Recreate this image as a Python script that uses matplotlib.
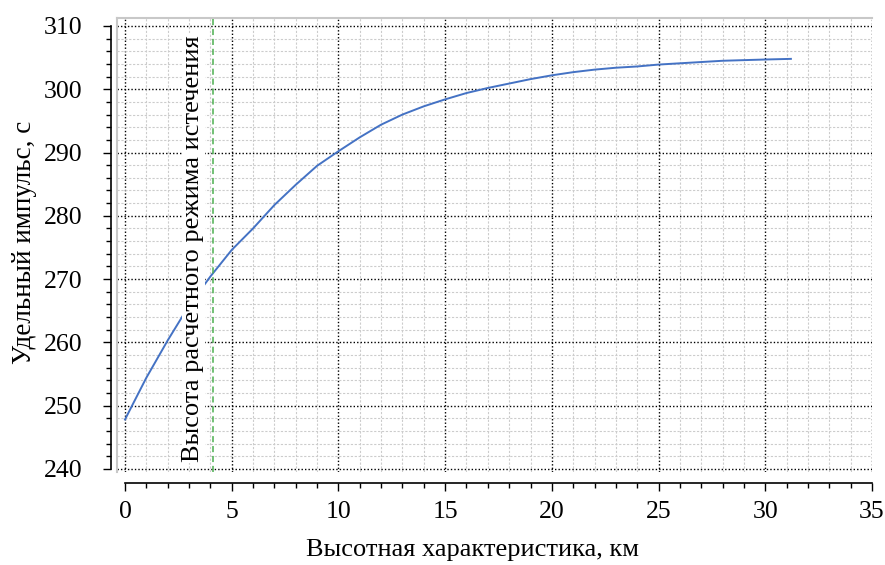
import matplotlib
matplotlib.use("Agg")
import matplotlib.pyplot as plt
from matplotlib.ticker import MultipleLocator

plt.rcParams['font.family'] = ['Liberation Serif', 'DejaVu Serif']

# data
altitude_km = [0, 1, 2, 3, 4, 5, 6, 7, 8, 9, 10, 11, 12, 13, 14, 15, 16, 17, 18, 19,
               20, 21, 22, 23, 24, 25, 26, 27, 28, 29, 30, 31.2]
specific_impulse = [247.8, 254.4, 260.3, 265.8, 270.4, 274.6, 278.0, 281.7, 284.9, 287.9,
                    290.2, 292.4, 294.4, 296.0, 297.3, 298.4, 299.4, 300.2, 300.9, 301.6,
                    302.2, 302.7, 303.1, 303.4, 303.6, 303.9, 304.1, 304.3, 304.5, 304.6,
                    304.7, 304.8]
design_altitude = 4.1
annotation = "Высота расчетного режима истечения"
xlabel = "Высотная характеристика, км"
ylabel = "Удельный импульс, с"

W, H = 885, 565
fig = plt.figure(figsize=(W / 100, H / 100), dpi=100)
L, R, T, B = 117, 872, 18, 472
ax = fig.add_axes([L / W, (H - B) / H, (R - L) / W, (B - T) / H])

ax.set_xlim(-0.375, 35)
ax.set_ylim(239.5, 311.26)

ax.xaxis.set_major_locator(MultipleLocator(5))
ax.xaxis.set_minor_locator(MultipleLocator(1))
ax.yaxis.set_major_locator(MultipleLocator(10))
ax.yaxis.set_minor_locator(MultipleLocator(2))

ax.grid(which='minor', color='#cccccc', linestyle=(0, (2, 1.5)), linewidth=0.8)
ax.grid(which='major', color='black', linestyle=(0, (1, 1.5)), linewidth=1.0)
ax.set_axisbelow(True)

ax.plot(altitude_km, specific_impulse, color='#4472C4', linewidth=1.4, zorder=3)
ax.axvline(design_altitude, color='#4CAF50', linestyle=(0, (4, 2.5)), linewidth=1.1, zorder=3)

ax.text(3.2, 241.1, annotation, rotation=90, ha='center', va='bottom', fontsize=19,
        zorder=4, bbox=dict(facecolor='white', edgecolor='none', pad=0.5))

for s in ['top', 'right']:
    ax.spines[s].set_visible(False)
ax.spines['left'].set_position(('outward', 4))
ax.spines['bottom'].set_position(('outward', 8))
ax.spines['left'].set_bounds(240, 310)
ax.spines['bottom'].set_bounds(0, 35)
for s in ['left', 'bottom']:
    ax.spines[s].set_linewidth(1.2)

# light frame lines
ax.plot([0, 1], [1, 1], transform=ax.transAxes, color='#c8c8c8', linewidth=1.5, clip_on=False)
ax.plot([0, 0], [0, 1], transform=ax.transAxes, color='#c8c8c8', linewidth=1.5, clip_on=False)

ax.tick_params(which='major', length=6, width=1.0, labelsize=18.5)
ax.tick_params(which='minor', length=3.6, width=1.0)
ax.tick_params(axis='y', which='major', pad=15)
ax.tick_params(axis='x', which='major', pad=7)

ax.set_xlabel(xlabel, fontsize=19)
ax.set_ylabel(ylabel, fontsize=19.5)
ax.xaxis.set_label_coords((472 - L) / (R - L), -(550 - B) / (B - T), transform=ax.transAxes)
ax.yaxis.set_label_coords(-(L - 25) / (R - L), (B - 242) / (B - T))
ax.xaxis.label.set_va('center')
ax.yaxis.label.set_va('center')

fig.savefig("out.png", dpi=100)
